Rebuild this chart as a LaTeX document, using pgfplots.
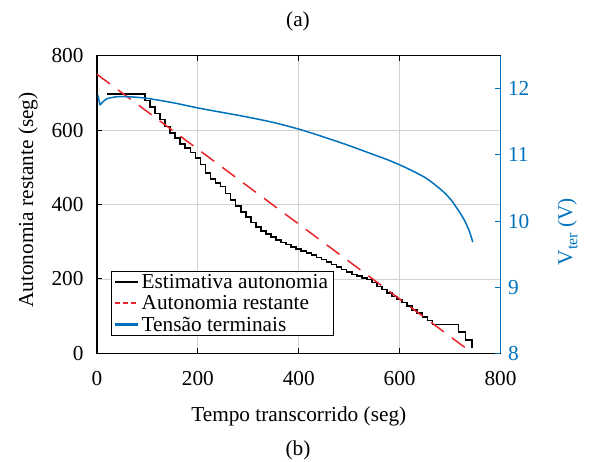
\documentclass[border=0pt]{standalone}
\usepackage{fontspec}
\setmainfont{Liberation Serif}
\usepackage{pgfplots}
\pgfplotsset{compat=1.18}
\definecolor{mblue}{HTML}{0072BD}
\definecolor{mred}{HTML}{E8252A}
\pgfplotsset{
  base/.style={
    width=403.5pt, height=297.6pt, scale only axis,
    xmin=0, xmax=800,
    tick align=inside,
    major tick length=5pt,
    axis line style={line width=1.2pt},
    /pgf/number format/assume math mode=true,
  },
}
\begin{document}
\begin{tikzpicture}[font=\fontsize{21.3}{25}\selectfont]
\useasboundingbox (-97pt,-107.7pt) rectangle (495pt,353.3pt);
\begin{axis}[
  base,
  ymin=0, ymax=800,
  xtick={0,200,...,800}, ytick={0,200,...,800},
  ytick pos=left,
  grid=major, grid style={gray!35, line width=0.8pt},
  major tick style={black, line width=1pt},
  xticklabel style={yshift=-14pt},
  yticklabel style={xshift=-10pt},
  xlabel={Tempo transcorrido (seg)},
  ylabel={Autonomia restante (seg)},
  xlabel style={at={(axis description cs:0.5,0)}, anchor=center, yshift=-63.4pt},
  ylabel style={at={(axis description cs:-0.171,0.515)}, anchor=center},
  legend style={at={(axis description cs:0.0347,0.275)}, anchor=north west,
    draw=black, fill=white, inner sep=2pt, row sep=4.5pt,
    font=\fontsize{21.3}{25}\selectfont,
    nodes={inner xsep=3pt, inner ysep=0.5pt}},
  every axis legend/.append style={line width=1pt},
  legend cell align=left,
]
\addplot[black, line width=1.6pt, const plot, forget plot] coordinates {
(20,697) (95,680) (105,662) (115,645) (125,628) (135,610) (145,593) (155,578)
(165,563) (175,552) (185,540) (195,525) (205,508) (215,485) (225,468) (235,458)
(245,448) (255,430) (265,412) (275,396) (285,380) (295,366) (305,352) (315,339)
(325,328) (335,320) (345,312) (355,304) (365,298) (375,292) (385,286) (395,281)
(405,275) (415,270) (425,264) (435,258) (445,252) (455,245) (465,239) (475,232)
(485,225) (495,218) (505,212) (515,207) (525,203) (535,198) (545,190) (555,180)
(565,171) (575,162) (585,153) (595,145) (605,137) (615,127) (625,117) (635,108)
(645,98) (655,88) (665,77) (717,58) (731,35) (744,13)
};
\addplot[mred, line width=1.5pt, dash pattern=on 16pt off 10pt, forget plot] coordinates {
(0,750) (745,0)
};
\addlegendimage{legend image code/.code={\draw[black, line width=2.2pt] (1pt,0pt) -- (24pt,0pt);}}
\addlegendentry{Estimativa autonomia}
\addlegendimage{legend image code/.code={\draw[mred, line width=2.2pt, dash pattern=on 5pt off 3pt] (1pt,0pt) -- (24pt,0pt);}}
\addlegendentry{Autonomia restante}
\addlegendimage{legend image code/.code={\draw[mblue, line width=2.2pt] (1pt,0pt) -- (24pt,0pt);}}
\addlegendentry{Tensão terminais}
\end{axis}
\begin{axis}[
  base,
  ymin=8, ymax=12.5,
  axis x line=none,
  axis y line*=right,
  y axis line style={mblue, line width=1.2pt},
  ytick={8,9,10,11,12},
  major tick style={mblue, line width=1pt},
  yticklabel style={mblue, xshift=4pt},
  ylabel={V\raisebox{-5pt}{\fontsize{16}{16}\selectfont ter} (V)},
  ylabel style={mblue, at={(axis description cs:1.166,0.409)}, anchor=center},
]
\addplot[mblue, line width=1.5pt, smooth, tension=0.4] coordinates {
(2,11.90) (6,11.76) (10,11.79) (20,11.85) (40,11.88) (60,11.88) (95,11.86)
(150,11.79) (200,11.71) (250,11.64) (300,11.57) (350,11.49) (400,11.39)
(450,11.27) (500,11.14) (550,11.00) (575,10.93) (600,10.85) (625,10.76)
(650,10.66) (670,10.55) (690,10.42) (705,10.29) (720,10.12) (730,9.99)
(738,9.85) (742,9.76) (745,9.68)
};
\end{axis}
\node at (201pt,331.6pt) {(a)};
\node at (201pt,-96.7pt) {(b)};
\end{tikzpicture}
\end{document}
